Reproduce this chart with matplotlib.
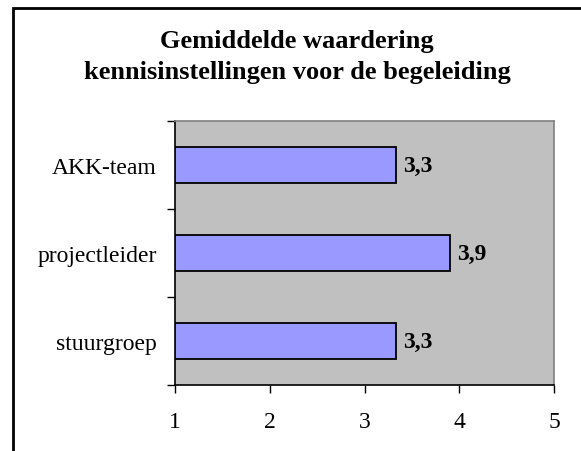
import matplotlib.pyplot as plt
from matplotlib.patches import Rectangle

categories = ["AKK-team", "projectleider", "stuurgroep"]
values = [3.33, 3.90, 3.33]
x_ticks = [1, 2, 3, 4, 5]
title = "Gemiddelde waardering\nkennisinstellingen voor de begeleiding"

plt.rcParams['font.family'] = ['Liberation Serif', 'DejaVu Serif']

W, H = 581, 452
fig = plt.figure(figsize=(W / 100, H / 100), dpi=100)
fig.patch.set_facecolor("white")

# outer chart frame (cut off at right and bottom like the original)
fig.patches.append(Rectangle((12.5 / W, -0.1), 1.2, 1 - 8.5 / H + 0.1,
                             transform=fig.transFigure, fill=False,
                             edgecolor="black", linewidth=2, zorder=10))

ax = fig.add_axes([175 / W, 1 - 386 / H, (554 - 175) / W, (386 - 122) / H])
ax.set_facecolor("#C0C0C0")

ypos = list(range(len(categories)))
ax.barh(ypos, [v - 1 for v in values], left=1, height=0.41,
        color="#9999FF", edgecolor="black", linewidth=1.3, zorder=3)
for y, v in zip(ypos, values):
    ax.text(v + 0.08, y, f"{v:.1f}".replace(".", ","), va="center",
            ha="left", fontsize=17, fontweight="bold", zorder=4)

ax.set_xlim(1, 5)
ax.set_ylim(len(categories) - 0.5, -0.5)
ax.set_xticks(x_ticks)
ax.set_xticklabels([str(t) for t in x_ticks])
ax.set_yticks(ypos)
ax.set_yticklabels(categories)
ax.set_yticks([i - 0.5 for i in range(len(categories) + 1)], minor=True)

ax.tick_params(axis="x", direction="out", length=6, width=1, pad=13,
               labelsize=17)
ax.tick_params(axis="y", which="major", length=0, pad=13, labelsize=17)
ax.tick_params(axis="y", which="minor", direction="out", length=6, width=1)

for s in ("left", "bottom"):
    ax.spines[s].set_color("black")
    ax.spines[s].set_linewidth(1.2)
for s in ("top", "right"):
    ax.spines[s].set_color("#808080")
    ax.spines[s].set_linewidth(1.2)

fig.text(297 / W, 1 - 57 / H, title, ha="center", va="center",
         fontsize=19, fontweight="bold", linespacing=1.4)

fig.savefig("out.png", dpi=100)
